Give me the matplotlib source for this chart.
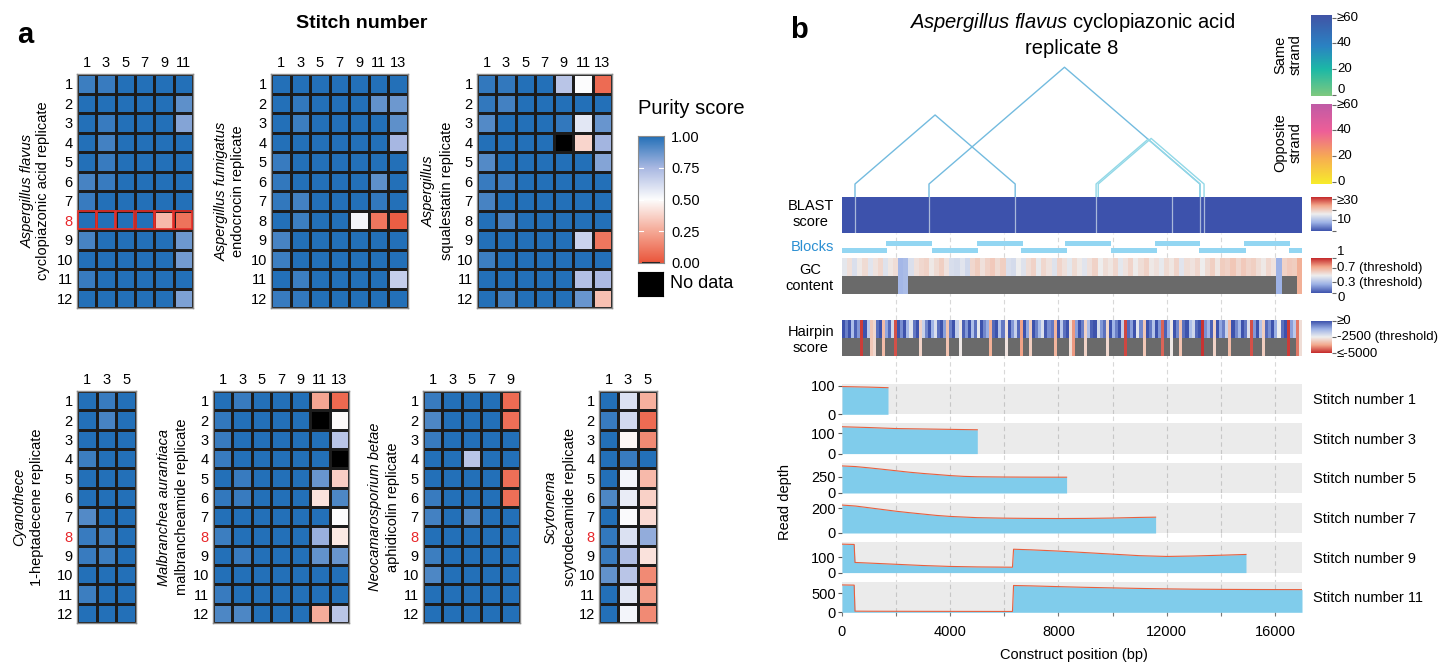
import numpy as np
import matplotlib
matplotlib.use("Agg")
import matplotlib.pyplot as plt
from matplotlib.colors import LinearSegmentedColormap
from matplotlib.patches import Rectangle

plt.rcParams['font.family'] = ['Liberation Sans', 'DejaVu Sans']
plt.rcParams['mathtext.fontset'] = 'custom'
plt.rcParams['mathtext.rm'] = 'Liberation Sans'
plt.rcParams['mathtext.it'] = 'Liberation Sans:italic'
plt.rcParams['mathtext.bf'] = 'Liberation Sans:bold'

nan = np.nan
# ---------------- panel a data ----------------
replicates = list(range(1, 13))
flavus_cols = [1, 3, 5, 7, 9, 11]
flavus = [[0.95, 0.96, 1, 1, 1, 1], [1, 1, 1, 1, 1, 0.89], [1, 0.96, 1, 1, 1, 0.82],
          [1, 0.94, 1, 1, 1, 1], [1, 0.96, 1, 1, 1, 1], [0.93, 0.96, 1, 1, 1, 1],
          [0.96, 1, 1, 1, 1, 1], [1, 1, 1, 1, 0.30, 0.09], [0.93, 1, 1, 1, 1, 0.86],
          [1, 1, 1, 1, 1, 0.85], [0.96, 1, 1, 1, 1, 1], [1, 1, 1, 1, 1, 0.83]]
fumig_cols = [1, 3, 5, 7, 9, 11, 13]
fumig = [[1, 1, 1, 1, 1, 1, 1], [1, 0.97, 1, 1, 1, 0.88, 0.86], [1, 0.95, 1, 1, 1, 1, 0.89],
         [1, 1, 1, 1, 1, 1, 0.75], [0.96, 1, 1, 1, 1, 1, 1], [0.97, 1, 1, 1, 1, 0.89, 1],
         [0.97, 0.94, 1, 1, 1, 0.97, 1], [1, 0.95, 1, 1, 0.53, 0.10, 0.03], [0.93, 1, 1, 1, 1, 1, 1],
         [0.95, 1, 1, 1, 1, 1, 1], [1, 0.95, 1, 1, 1, 1, 0.67], [0.96, 0.97, 1, 1, 1, 1, 1]]
squal_cols = [1, 3, 5, 7, 9, 11, 13]
squal = [[0.97, 0.97, 1, 1, 0.70, 0.50, 0.07], [0.97, 0.94, 1, 1, 1, 1, 1], [0.91, 1, 1, 1, 0.97, 0.58, 0.87],
         [1, 1, 1, 1, nan, 0.38, 0.76], [0.91, 1, 1, 1, 1, 1, 0.82], [0.96, 0.96, 1, 1, 1, 1, 1],
         [0.93, 1, 1, 1, 1, 1, 1], [1, 0.94, 1, 1, 1, 1, 1], [1, 1, 1, 1, 1, 0.65, 0.10],
         [0.95, 1, 1, 1, 1, 1, 1], [1, 1, 1, 1, 1, 0.72, 0.74], [1, 0.95, 1, 1, 1, 0.87, 0.32]]
cyano_cols = [1, 3, 5]
cyano = [[1, 0.96, 1], [1, 0.93, 1], [1, 1, 1], [0.95, 1, 1], [1, 1, 1], [1, 1, 1],
         [0.91, 1, 1], [0.96, 0.95, 1], [0.96, 0.95, 1], [1, 1, 1], [0.95, 1, 1], [1, 1, 1]]
malb_cols = [1, 3, 5, 7, 9, 11, 13]
malb = [[1, 0.96, 1, 1, 1, 0.24, 0.06], [0.97, 1, 1, 1, 1, nan, 0.49], [0.96, 1, 1, 1, 1, 1, 0.70],
        [0.96, 1, 1, 1, 1, 1, nan], [1, 0.96, 1, 1, 1, 0.87, 0.36], [0.97, 0.96, 1, 1, 1, 0.42, 0.92],
        [1, 1, 1, 1, 1, 1, 0.50], [0.95, 1, 1, 1, 1, 0.78, 0.44], [1, 0.96, 1, 1, 1, 0.88, 0.87],
        [1, 1, 1, 1, 1, 1, 1], [0.96, 1, 1, 1, 1, 1, 1], [0.92, 0.92, 1, 1, 1, 0.26, 0.70]]
neo_cols = [1, 3, 5, 7, 9]
neo = [[0.96, 1, 1, 1, 0.07], [0.92, 1, 1, 1, 0.08], [0.96, 1, 1, 1, 1], [1, 1, 0.70, 1, 1],
       [1, 1, 1, 1, 0.08], [0.96, 1, 1, 1, 0.08], [0.94, 1, 0.92, 1, 1], [1, 1, 1, 1, 1],
       [0.95, 1, 1, 1, 1], [0.92, 1, 1, 1, 1], [1, 1, 1, 1, 1], [1, 1, 1, 1, 1]]
scyto_cols = [1, 3, 5]
scyto = [[1, 0.60, 0.27], [0.96, 0.63, 0.07], [1, 0.48, 0.16], [1, 0.96, 1], [1, 0.53, 0.30],
         [0.92, 0.56, 0.37], [1, 0.51, 0.40], [0.97, 0.60, 0.79], [0.96, 0.73, 0.42],
         [0.88, 0.70, 0.16], [1, 0.58, 0.21], [1, 0.53, 0.16]]

# ---------------- panel b data ----------------
construct_len = 17000
block_starts = [0, 1630, 3325, 4990, 6600, 8230, 9930, 11560, 13200, 14850, 16530]
block_ends = [1660, 3320, 5010, 6680, 8300, 9940, 11640, 13230, 14920, 16540, 17000]
arc_starts = [480, 3215, 9390, 9470]
arc_ends = [6400, 13230, 13230, 13380]
arc_colors = ['#73bbdf', '#73bbdf', '#92d8e7', '#92d8e7']
blast_line_pos = [480, 3215, 6400, 9390, 12195, 13230, 13380]
blast_score = [0.0]
gc_content = [0.47, 0.55, 0.44, 0.52, 0.57, 0.46, 0.54, 0.58, 0.45, 0.53, 0.56,
              0.27, 0.29,
              0.44, 0.55, 0.58, 0.60, 0.52, 0.57, 0.61, 0.54,
              0.43, 0.42, 0.46, 0.41,
              0.58, 0.62, 0.55, 0.60, 0.63, 0.57, 0.61,
              0.44, 0.42, 0.50, 0.45,
              0.56, 0.60, 0.48, 0.58, 0.54, 0.45, 0.59, 0.55, 0.47,
              0.57, 0.52, 0.46, 0.55, 0.60, 0.50, 0.56, 0.53, 0.58, 0.47, 0.54, 0.59, 0.51, 0.56, 0.60, 0.52,
              0.55, 0.48, 0.57, 0.53, 0.59, 0.46, 0.56, 0.54, 0.58, 0.50, 0.57, 0.61, 0.53,
              0.62, 0.60, 0.64, 0.58, 0.63, 0.59, 0.61,
              0.56, 0.52, 0.58, 0.54,
              0.25,
              0.60, 0.63, 0.62,
              0.72]
hairpin = [200, -600, 300, -1500, -200, -900, -4800, 100, -1700, -3200,
           -2900, -400, 200, -3400, -1100, -300, -2000, -4600, 0, -800,
           300, -1400, -2300, -500, 100, -3000, -1900, -700, 200, -1300,
           -2200, -400, 0, -1000, -3300, -600, 300, -1800, -2600, -200,
           -900, 100, -1500, -400, -2400, 0, -700, -1200, -3600, -300,
           200, -1600, -500, -2700, 100, -900, -1900, -300, -3800, 0,
           -1100, -3100, 200, -600, -1400, -2200, -100, -800, -500, -3500,
           100, -1700, -400, 0, -2800, -3900, -1000, 300, -600, -3000,
           -1500, -200, 100, -2100, -900, -400, -2900, 0, -1300, -600,
           200, -1800, -4700, -300, -1000, 100, -2300, -700, -3200, 0,
           -500, -1600, 200, -900, -4400, -200, -1200, -2600, 100, -700,
           -3300, -400, 0, -1500, -2000, -300, 200, -4900, -800, -1300,
           -200, -3000, 100, -1100, -600, -1900, -3400, 0, -700, -1400,
           200, -500, -2200, -4600, -900, 100, -1600, -3100, -300, -800,
           0, -1200, -2500, -400, 200, -4800, -1000, -1700, -4200, -2800]
gc_thresholds = (0.3, 0.7)
hairpin_threshold = -2500

stitch_numbers = [1, 3, 5, 7, 9, 11]
depth_pos = [
    [0, 500, 1000, 1700],
    [0, 1000, 2000, 3000, 4000, 5000],
    [0, 500, 1000, 1500, 2000, 2500, 3000, 3500, 4000, 4500, 5000, 6000, 7000, 8300],
    [0, 500, 1000, 1500, 2000, 2500, 3000, 3500, 4000, 5000, 6000, 7000, 8000, 9000, 10000, 11000, 11590],
    [0, 450, 480, 1000, 2000, 3000, 4000, 5000, 6300, 6340, 7000, 8000, 9000, 10000, 11000, 12000, 13000, 14000, 14930],
    [0, 450, 480, 1000, 3000, 6300, 6340, 7000, 8000, 9000, 10000, 11000, 12000, 13000, 14000, 15000, 16000, 17000],
]
depth_val = [
    [98, 97, 96, 94],
    [133, 129, 124, 122, 120, 118],
    [420, 410, 390, 368, 345, 322, 303, 287, 270, 258, 252, 248, 246, 245],
    [226, 218, 204, 190, 176, 164, 153, 142, 134, 124, 120, 118, 117, 118, 121, 126, 128],
    [185, 183, 66, 62, 54, 46, 40, 37, 35, 152, 148, 140, 130, 120, 110, 105, 108, 113, 118],
    [720, 715, 30, 28, 25, 22, 705, 695, 675, 657, 642, 628, 616, 608, 603, 600, 598, 597],
]
depth_ylim = [107, 150, 470, 245, 197, 797]
depth_yticks = [[0, 100], [0, 100], [0, 250], [0, 200], [0, 100], [0, 500]]

# ---------------- figure ----------------
W, H = 1452, 664
fig = plt.figure(figsize=(W / 100, H / 100), dpi=100)


def add_px(x0, y0, x1, y1, **kw):
    return fig.add_axes([x0 / W, 1 - y1 / H, (x1 - x0) / W, (y1 - y0) / H], **kw)


def ftext(x, y, s, **kw):
    return fig.text(x / W, 1 - y / H, s, **kw)


purity_cmap = LinearSegmentedColormap.from_list(
    'purity', [(0, '#ea553a'), (0.25, '#f5a996'), (0.5, '#fdfdfd'), (0.75, '#a9b8e2'), (1, '#2370b8')])
purity_cmap_bad = purity_cmap.with_extremes(bad='black')

div_cmap = LinearSegmentedColormap.from_list(
    'div', [(0, '#3d52ac'), (0.25, '#9db2e6'), (0.5, '#eeeeee'), (0.75, '#f3a88c'), (1, '#c4282a')])
div_cmap_r = div_cmap.reversed()
same_cmap = LinearSegmentedColormap.from_list(
    'same', [(0, '#7fc97f'), (0.33, '#1cb9a6'), (0.62, '#2b82c3'), (1, '#4154a6')])
opp_cmap = LinearSegmentedColormap.from_list(
    'opp', [(0, '#f7ec2a'), (0.33, '#f7ad52'), (0.66, '#ee5f98'), (1, '#c05ba6')])

# ---------- panel a ----------
ftext(25, 35, 'a', fontsize=21, fontweight='bold', ha='center', va='center')
ftext(362, 24, 'Stitch number', fontsize=14, fontweight='bold', ha='center', va='center')


def heatmap(box, data, cols, red8, outline8, ital, sub, lx1, lx2, ly):
    x0, y0, x1, y1 = box
    ax = add_px(x0, y0, x1, y1)
    arr = np.ma.masked_invalid(np.array(data, float))
    nr, nc = arr.shape
    ax.pcolormesh(np.arange(nc + 1), np.arange(nr + 1), arr, cmap=purity_cmap_bad, vmin=0, vmax=1,
                  edgecolors='#1c1c1c', linewidth=0.8)
    ax.set_xlim(0, nc)
    ax.set_ylim(nr, 0)
    ax.xaxis.tick_top()
    ax.set_xticks(np.arange(nc) + 0.5)
    ax.set_xticklabels([str(c) for c in cols])
    ax.set_yticks(np.arange(nr) + 0.5)
    ax.set_yticklabels([str(r) for r in replicates])
    ax.tick_params(length=0, labelsize=10.5, pad=3)
    for s in ax.spines.values():
        s.set_color('#8c8c8c')
        s.set_linewidth(1.0)
    if red8:
        ax.get_yticklabels()[7].set_color('#e8262a')
    if outline8:
        for j in range(nc):
            ax.add_patch(Rectangle((j + 0.04, 7.04), 0.92, 0.92, fill=False, ec='#e8302a', lw=1.2, zorder=5))
    ftext(lx1, ly, ital, rotation=90, ha='center', va='center', fontsize=10.5, style='italic')
    ftext(lx2, ly, sub, rotation=90, ha='center', va='center', fontsize=10.5)
    return ax


heatmap((77, 74, 193, 308), flavus, flavus_cols, True, True, 'Aspergillus flavus',
        'cyclopiazonic acid replicate', 28, 43, 191)
heatmap((271, 74, 408, 308), fumig, fumig_cols, False, False, 'Aspergillus fumigatus',
        'endocrocin replicate', 222, 238, 191)
heatmap((477, 74, 612, 308), squal, squal_cols, False, False, 'Aspergillus',
        'squalestatin replicate', 429, 447, 191)
heatmap((77, 391, 136, 623), cyano, cyano_cols, True, False, 'Cyanothece',
        '1-heptadecene replicate', 19, 37, 507)
heatmap((213, 391, 349, 623), malb, malb_cols, True, False, 'Malbranchea aurantiaca',
        'malbrancheamide replicate', 164, 182, 507)
heatmap((423, 391, 520, 623), neo, neo_cols, True, False, 'Neocamarosporium betae',
        'aphidicolin replicate', 375, 393, 507)
heatmap((599, 391, 657, 623), scyto, scyto_cols, True, False, 'Scytonema',
        'scytodecamide replicate', 551, 570, 507)

# purity colorbar
ftext(638, 108, 'Purity score', fontsize=14.5, ha='left', va='center')
cax = add_px(638, 136, 664, 263)
grad = np.linspace(0, 1, 256).reshape(-1, 1)
cax.imshow(grad, cmap=purity_cmap, aspect='auto', origin='lower', extent=[0, 1, 0, 1], vmin=0, vmax=1)
cax.set_xticks([])
cax.yaxis.tick_right()
cax.set_yticks([0, 0.25, 0.5, 0.75, 1.0])
cax.set_yticklabels(['0.00', '0.25', '0.50', '0.75', '1.00'])
cax.tick_params(axis='y', length=0, labelsize=10.5, pad=5)
for yv in [0.25, 0.5, 0.75]:
    cax.plot([0, 0.2], [yv, yv], color='white', lw=0.8)
    cax.plot([0.8, 1], [yv, yv], color='white', lw=0.8)
for yv in [0.0, 1.0]:
    cax.plot([0.2, 0.8], [yv, yv], color='#222222', lw=1.5)
for s in cax.spines.values():
    s.set_color('#8c8c8c')
nax = add_px(638, 272, 663, 296)
nax.set_facecolor('black')
nax.set_xticks([])
nax.set_yticks([])
ftext(670, 284, 'No data', fontsize=13, ha='left', va='center')

# ---------- panel b ----------
ftext(799, 30, 'b', fontsize=21, fontweight='bold', ha='center', va='center')
XL, XR = 842, 1302
ftext(1072, 23, r'$\mathit{Aspergillus\ flavus}$ cyclopiazonic acid', fontsize=14.5, ha='center', va='center')
ftext(1072, 49, 'replicate 8', fontsize=14.5, ha='center', va='center')

# background grid
bg = add_px(XL, 233, XR, 615)
bg.set_xlim(0, construct_len)
bg.set_ylim(0, 1)
bg.axis('off')
for xv in range(2000, 17000, 2000):
    bg.axvline(xv, color='#d8d8d8', lw=0.8, ls=(0, (4, 3)))

# arcs
aax = add_px(XL, 60, XR, 197)
aax.set_xlim(0, construct_len)
aax.set_ylim(0, 137)
aax.axis('off')
foot = 13
k = 0.01166
for s0, s1, c in zip(arc_starts, arc_ends, arc_colors):
    mid = (s0 + s1) / 2
    hgt = foot + (s1 - s0) * k
    aax.plot([s0, s0, mid, s1, s1], [0, foot, hgt, foot, 0], color=c, lw=1.0, clip_on=False)

# BLAST bar
bax = add_px(XL, 197, XR, 233)
bax.pcolormesh([0, construct_len], [0, 1], np.array([blast_score]), cmap=div_cmap, vmin=0, vmax=32)
for xv in blast_line_pos:
    bax.axvline(xv, color='#a9b8da', lw=0.9)
bax.set_xlim(0, construct_len)
bax.set_ylim(0, 1)
bax.axis('off')

# Blocks
blk = add_px(XL, 239, XR, 253)
blk.set_xlim(0, construct_len)
blk.set_ylim(0, 1)
blk.axis('off')
for i, (s0, s1) in enumerate(zip(block_starts, block_ends)):
    yb = 0.0 if i % 2 == 0 else 0.5
    blk.add_patch(Rectangle((s0, yb + 0.03), s1 - s0, 0.33, color='#93d6f2', lw=0))


def stripe_track(box, vals, cmap, vmin, vmax, outside):
    ax = add_px(*box)
    v = np.array(vals, float)
    edges = np.linspace(0, construct_len, len(v) + 1)
    ax.pcolormesh(edges, [0.5, 1], v.reshape(1, -1), cmap=cmap, vmin=vmin, vmax=vmax)
    ax.axhspan(0, 0.5, color='#6a6a6a', lw=0)
    low = np.ma.masked_where(~outside(v), v)
    ax.pcolormesh(edges, [0, 0.5], low.reshape(1, -1), cmap=cmap.with_extremes(bad=(0, 0, 0, 0)),
                  vmin=vmin, vmax=vmax)
    ax.set_xlim(0, construct_len)
    ax.set_ylim(0, 1)
    ax.axis('off')
    return ax


stripe_track((XL, 258, XR, 294), gc_content, div_cmap, 0, 1,
             lambda v: (v < gc_thresholds[0]) | (v > gc_thresholds[1]))
stripe_track((XL, 320, XR, 356), hairpin, div_cmap_r, -5000, 0,
             lambda v: v < hairpin_threshold)

# track labels
ftext(834, 214, 'BLAST\nscore', fontsize=10.5, ha='right', va='center', multialignment='center', linespacing=1.25)
ftext(834, 247, 'Blocks', fontsize=10.5, ha='right', va='center', color='#2b8fd2')
ftext(834, 278, 'GC\ncontent', fontsize=10.5, ha='right', va='center', multialignment='center', linespacing=1.25)
ftext(834, 340, 'Hairpin\nscore', fontsize=10.5, ha='right', va='center', multialignment='center', linespacing=1.25)


def side_cbar(y0, y1, cmap, vmin, vmax, ticks, labels, offsets):
    ax = add_px(1311, y0, 1332, y1)
    g = np.linspace(vmin, vmax, 256).reshape(-1, 1)
    ax.imshow(g, cmap=cmap, aspect='auto', origin='lower', extent=[0, 1, vmin, vmax], vmin=vmin, vmax=vmax)
    ax.set_xticks([])
    ax.yaxis.tick_right()
    ax.set_yticks(ticks)
    ax.set_yticklabels([])
    ax.set_ylim(vmin, vmax)
    ax.tick_params(axis='y', length=3, width=0.8, color='#666666')
    for s in ax.spines.values():
        s.set_visible(False)
    for t, lab, off in zip(ticks, labels, offsets):
        if lab:
            ypx = y1 - (t - vmin) / (vmax - vmin) * (y1 - y0) + off
            ftext(1337, ypx, lab, fontsize=9.5, ha='left', va='center')
    return ax


side_cbar(15, 96, same_cmap, -1, 62, [0, 20, 40, 60], ['0', '20', '40', '≥60'], [-5, 0, 0, 0])
side_cbar(104, 184, opp_cmap, -1.5, 60.5, [0, 20, 40, 60], ['0', '20', '40', '≥60'], [0, 0, 0, 0.5])
side_cbar(197, 231, div_cmap, 0, 32, [0, 10, 20, 30], ['', '10', '', '≥30'], [0, 0, 0, 2])
side_cbar(258, 293, div_cmap, 0, 1, [0, 0.3, 0.7, 1], ['0', '0.3 (threshold)', '0.7 (threshold)', '1'],
          [5.5, 0.5, -1, -6])
side_cbar(321, 353, div_cmap_r, -5000, 0, [-5000, -2500, 0], ['≤-5000', '-2500 (threshold)', '≥0'], [1, 0, 0])
ftext(1288, 55, 'Same\nstrand', rotation=90, fontsize=10.5, ha='center', va='center', linespacing=1.1)
ftext(1288, 143, 'Opposite\nstrand', rotation=90, fontsize=10.5, ha='center', va='center', linespacing=1.1)

# read depth panels
panel_tops = [384, 423.3, 462.7, 502.7, 542.3, 582]
for i, (sn, pos, val) in enumerate(zip(stitch_numbers, depth_pos, depth_val)):
    yt = panel_tops[i]
    ax = add_px(XL, yt, XR, yt + 30.3)
    ax.set_facecolor('#ebebeb')
    for xv in range(2000, 17000, 2000):
        ax.axvline(xv, color='#c6c6c6', lw=0.8, ls=(0, (4, 3)), zorder=0.5)
    ax.fill_between(pos, 0, val, color='#80cceb', lw=0, zorder=2)
    ax.plot(pos, val, color='#e8603f', lw=0.8, zorder=3)
    ax.set_xlim(0, construct_len)
    ax.set_ylim(0, depth_ylim[i])
    ax.set_yticks(depth_yticks[i])
    ax.tick_params(axis='y', length=3, width=0.8, color='#555555', labelsize=10.5, pad=1.5)
    for s in ax.spines.values():
        s.set_visible(False)
    if i == 5:
        ax.set_xticks(range(0, 17000, 4000))
        ax.set_xticks(range(2000, 17000, 4000), minor=True)
        ax.tick_params(axis='x', which='both', length=3, width=0.8, color='#777777', labelsize=10.5, pad=6)
    else:
        ax.set_xticks([])
    ftext(1313, yt + 16.5, 'Stitch number %d' % sn, fontsize=10.5, ha='left', va='center')

ftext(785, 502, 'Read depth', rotation=90, fontsize=10.5, ha='center', va='center')
ftext(1074, 655, 'Construct position (bp)', fontsize=10.5, ha='center', va='center')

fig.savefig('out.png', dpi=100)
